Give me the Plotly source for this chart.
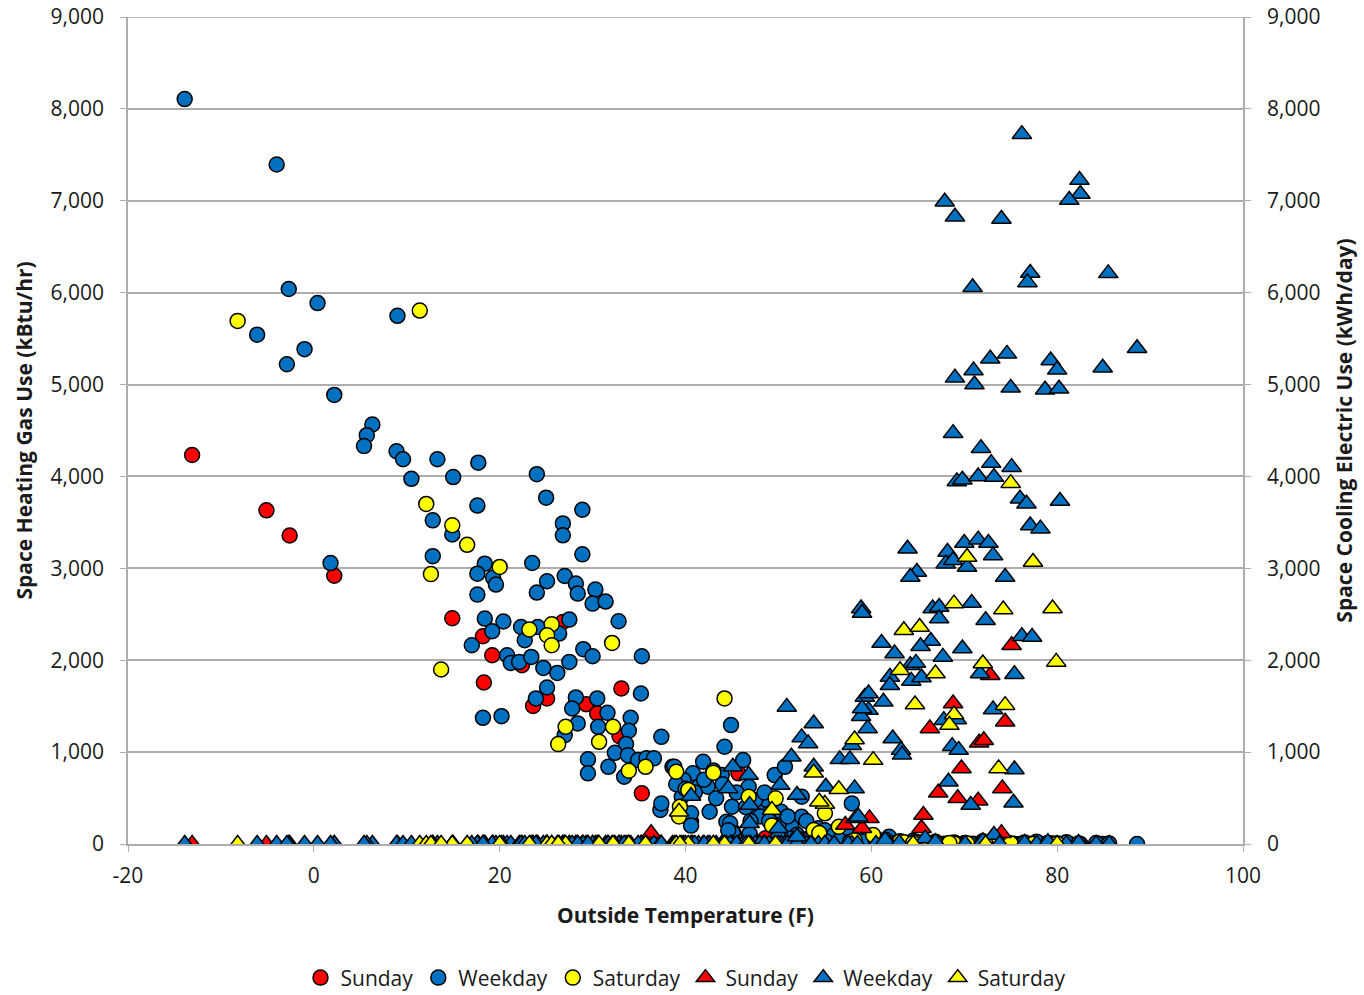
import plotly.graph_objects as go

# ---------------- Sunday (one entry per day) ----------------
sun_temp = [-13.1, -5.1, -2.6, 2.2, 14.9, 18.2, 19.2, 22.4, 18.3, 25.1, 23.6, 33.1,
            29.3, 30.5, 26.8, 32.9, 35.3, 36.3, 40.6, 45.1, 45.7, 48.6,
            55.0, 57.2, 59.0, 59.8, 61.1, 65.4, 65.6, 66.3, 66.7, 67.2, 68.8, 69.3,
            69.7, 71.5, 71.6, 72.1, 72.8, 74.0, 74.1, 74.4, 75.1]
sun_heat = [4233, 3631, 3357, 2919, 2457, 2261, 2054, 1946, 1758, 1584, 1503, 1692,
            1522, 1421, 2416, 1174, 551, 0, 242, 134, 769, 62,
            10, 0, 10, 0, 5, 0, 0, 0, 0, 0, 0, 0,
            0, 0, 0, 0, 0, 0, 0, 0, 0]
sun_cool = [0, 0, 0, 0, 0, 0, 0, 0, 0, 0, 0, 0,
            0, 0, 0, 0, 0, 116, 0, 0, 0, 0,
            0, 207, 171, 279, 0, 171, 315, 1258, 0, 558, 1529, 497,
            823, 471, 1101, 1130, 1837, 116, 605, 1330, 2163]

# ---------------- Weekday heating days ----------------
wkh_temp = [-13.9, -4.0, -2.7, 0.4, -6.1, -1.0, -2.9, 9.0, 2.2, 6.3, 5.7, 5.4, 8.9, 9.6,
            13.3, 10.5, 15.0, 17.7, 1.8, 12.8, 14.9, 12.8, 17.6, 24.0, 25.0, 28.9,
            26.8, 26.8, 28.9, 18.4, 17.6, 19.3, 19.6, 17.6, 23.5, 25.1, 24.0, 27.0,
            28.2, 28.4, 30.3, 30.0, 31.4, 32.8, 18.4, 20.4, 19.2, 17.0, 20.8, 21.2,
            22.1, 23.4, 22.3, 22.7, 24.1, 26.4, 27.5, 24.7, 26.2, 27.5, 29.0, 30.0,
            35.3, 18.2, 20.2, 25.1, 23.9, 35.2, 28.2, 30.5, 27.8, 31.6, 34.1, 28.4,
            30.6, 33.9, 27.0, 33.6, 37.4, 32.4, 33.8, 29.5, 31.7, 34.9, 35.8, 36.6,
            33.4, 29.5, 37.3, 37.4, 38.6, 44.9, 44.2, 38.8, 40.8, 41.9, 43.9, 46.2,
            39.8, 41.4, 42.4, 39.6, 40.6, 42.6, 43.3, 45.0, 44.4, 44.8, 46.8, 49.6,
            50.7, 48.4, 47.8, 50.3, 52.5, 52.5, 51.4, 54.3, 57.9, 57.5, 61.9,
            39.0, 40.0, 41.0, 42.0, 43.0, 44.0, 45.5, 46.5, 47.5, 48.0, 49.0, 50.0,
            51.0, 53.0, 55.0, 56.0, 58.5, 48.5, 47.0, 52.0, 53.5]
wkh_heat = [8107, 7395, 6040, 5887, 5543, 5385, 5221, 5748, 4887, 4565, 4449, 4330, 4274, 4187,
            4187, 3974, 3993, 4150, 3057, 3522, 3368, 3132, 3683, 4025, 3769, 3638,
            3489, 3359, 3152, 3051, 2942, 2899, 2823, 2714, 3058, 2859, 2736, 2917,
            2834, 2725, 2769, 2616, 2638, 2424, 2453, 2421, 2315, 2163, 2054, 1971,
            1982, 2036, 2362, 2217, 2362, 2290, 2442, 1916, 1862, 1982, 2120, 2043,
            2043, 1373, 1391, 1703, 1584, 1638, 1595, 1584, 1475, 1427, 1373, 1312,
            1275, 1232, 1185, 1087, 1166, 992, 967, 921, 840, 913, 932, 932,
            732, 769, 370, 442, 840, 1294, 1058, 840, 769, 895, 750, 913,
            696, 623, 623, 514, 334, 351, 497, 405, 242, 225, 623, 750,
            840, 478, 351, 351, 514, 297, 188, 171, 442, 116, 79,
            650, 600, 560, 700, 800, 650, 560, 400, 480, 300, 250, 200,
            300, 250, 150, 100, 60, 560, 250, 100, 80]

# ---------------- Weekday cooling days ----------------
wkc_temp = [76.2, 82.4, 82.5, 81.3, 67.9, 69.0, 74.0, 77.1, 76.8, 85.5, 70.9, 88.6,
            74.6, 72.8, 79.3, 80.0, 71.0, 84.9, 69.0, 71.1, 75.0, 78.7, 80.2, 68.8,
            71.8, 72.9, 75.1, 69.2, 69.8, 71.5, 73.2, 76.0, 76.7, 80.3, 77.1, 78.2,
            63.9, 68.2, 70.0, 71.5, 72.6, 68.0, 68.8, 70.3, 73.1, 74.4, 64.9, 64.2,
            58.9, 59.0, 66.6, 67.3, 70.8, 67.3, 72.3, 61.1, 66.4, 65.3, 76.2, 77.3,
            69.8, 62.5, 67.7, 64.2, 64.8, 71.7, 75.4, 62.0, 64.3, 65.4, 62.0, 59.3,
            61.3, 59.7, 58.9, 59.6, 67.8, 69.2, 73.1, 62.3, 63.2, 63.3, 68.7, 69.4,
            75.4, 68.3, 70.7, 75.3, 58.3, 73.2, 50.9, 53.8, 52.5, 53.2, 51.4, 53.8,
            55.1, 58.2, 52.0, 50.2, 46.8, 45.1, 44.6, 40.6, 46.9, 50.0, 46.9, 52.0,
            58.6, 59.7, 59.0, 57.9, 56.6, 57.7,
            60.5, 61.5, 63.0, 64.5, 65.8, 66.9, 70.1, 72.0, 73.8, 76.5, 77.8, 79.0,
            81.0, 82.3, 84.2, 85.6]
wkc_heat = [0, 0, 0, 0, 0, 0, 0, 0, 0, 0, 0, 0,
            0, 0, 0, 0, 0, 0, 0, 0, 0, 0, 0, 0,
            0, 0, 0, 0, 0, 0, 0, 0, 0, 0, 0, 0,
            0, 0, 0, 0, 0, 0, 0, 0, 0, 0, 0, 0,
            20, 15, 0, 0, 0, 0, 0, 10, 0, 0, 0, 0,
            0, 5, 0, 0, 0, 0, 0, 5, 0, 0, 0, 10,
            5, 10, 20, 10, 0, 0, 0, 5, 0, 0, 0, 0,
            0, 0, 0, 0, 30, 0, 40, 30, 50, 40, 60, 20,
            30, 20, 60, 80, 100, 120, 150, 200, 90, 70, 110, 40,
            25, 15, 30, 20, 40, 25,
            30, 45, 20, 35, 15, 25, 10, 30, 20, 15, 25, 10,
            20, 5, 10, 5]
wkc_cool = [7725, 7225, 7073, 7008, 6990, 6826, 6801, 6214, 6112, 6210, 6058, 5395,
            5334, 5280, 5261, 5160, 5152, 5182, 5073, 5000, 4964, 4943, 4954, 4471,
            4308, 4145, 4101, 3946, 3964, 4000, 3993, 3758, 3703, 3732, 3467, 3432,
            3214, 3178, 3275, 3312, 3275, 3051, 3087, 3014, 3141, 2906, 2960, 2906,
            2562, 2514, 2562, 2580, 2623, 2453, 2435, 2188, 2210, 2152, 2261, 2253,
            2127, 2073, 2036, 1946, 1971, 1855, 1848, 1818, 1775, 1812, 1728, 1601,
            1547, 1457, 1391, 1258, 1348, 1355, 1464, 1149, 1022, 970, 1065, 1022,
            812, 677, 424, 449, 279, 98, 1492, 1312, 1160, 1095, 949, 840,
            623, 605, 533, 641, 750, 840, 605, 522, 424, 171, 225, 79,
            297, 1638, 1475, 1076, 921, 921,
            0, 40, 10, 0, 60, 20, 0, 30, 0, 10, 0, 20,
            0, 10, 0, 0]

# ---------------- Saturday (one entry per day) ----------------
sat_temp = [-8.2, 11.4, 12.1, 14.9, 16.5, 12.6, 20.0, 23.2, 25.6, 25.1, 25.6, 32.1,
            13.7, 27.1, 32.2, 26.3, 30.7, 33.9, 35.7, 39.0, 44.2, 43.0, 40.3, 39.4,
            46.8, 49.7, 53.8, 55.0, 56.5, 60.2,
            39.3, 49.3, 54.4, 58.2, 63.1, 63.5, 65.2, 64.7, 66.9, 68.9, 68.9, 68.4,
            70.3, 72.0, 73.7, 74.2, 74.4, 75.0, 77.4, 79.5, 79.9, 64.5, 72.3, 80.0]
sat_heat = [5693, 5805, 3701, 3469, 3256, 2937, 3015, 2334, 2391, 2272, 2163, 2188,
            1899, 1275, 1275, 1087, 1112, 797, 840, 786, 1584, 775, 587, 405,
            514, 497, 152, 334, 188, 98,
            300, 200, 120, 40, 30, 20, 15, 20, 10, 15, 5, 10,
            5, 10, 5, 0, 10, 5, 0, 5, 0, 10, 0, 5]
sat_cool = [0, 0, 0, 0, 0, 0, 0, 0, 0, 0, 0, 0,
            0, 0, 0, 0, 0, 0, 0, 0, 0, 0, 0, 0,
            0, 0, 775, 435, 595, 913,
            351, 370, 460, 1138, 1891, 2326, 2362, 1519, 1855, 2616, 1410, 1294,
            3123, 1964, 823, 2551, 1511, 3927, 3069, 2562, 1982, 0, 0, 0]

x_ticks = [-20, 0, 20, 40, 60, 80, 100]
x_tick_text = ["-20", "0", "20", "40", "60", "80", "100"]
y_ticks = [0, 1000, 2000, 3000, 4000, 5000, 6000, 7000, 8000, 9000]
y_tick_text = ["0", "1,000", "2,000", "3,000", "4,000", "5,000", "6,000", "7,000", "8,000", "9,000"]

wk_temp_h = wkh_temp + wkc_temp
wk_heat = wkh_heat + wkc_heat
wk_cool = [0] * len(wkh_temp) + wkc_cool

RED, BLUE, YEL = "#FF0000", "#0070C0", "#FFFF00"
CIRC = 15
TRI = 17
LINE = dict(color="black", width=1.5)

fig = go.Figure()
fig.add_trace(go.Scatter(x=sun_temp, y=sun_heat, mode="markers", name="Sunday",
                         marker=dict(symbol="circle", size=CIRC, color=RED, line=LINE)))
fig.add_trace(go.Scatter(x=wk_temp_h, y=wk_heat, mode="markers", name="Weekday",
                         marker=dict(symbol="circle", size=CIRC, color=BLUE, line=LINE)))
fig.add_trace(go.Scatter(x=sat_temp, y=sat_heat, mode="markers", name="Saturday",
                         marker=dict(symbol="circle", size=CIRC, color=YEL, line=LINE)))
fig.add_trace(go.Scatter(x=sun_temp, y=sun_cool, mode="markers", name="Sunday", yaxis="y2",
                         marker=dict(symbol="triangle-up", size=TRI, color=RED, line=LINE)))
fig.add_trace(go.Scatter(x=wk_temp_h, y=wk_cool, mode="markers", name="Weekday", yaxis="y2",
                         marker=dict(symbol="triangle-up", size=TRI, color=BLUE, line=LINE)))
fig.add_trace(go.Scatter(x=sat_temp, y=sat_cool, mode="markers", name="Saturday", yaxis="y2",
                         marker=dict(symbol="triangle-up", size=TRI, color=YEL, line=LINE)))

FONT = "Open Sans"
GRID = "#ADADAD"
tickfont = dict(family=FONT, size=21, color="#1a1a1a")
titlefont = dict(family=FONT, size=21, color="#1a1a1a", weight="bold")

fig.update_layout(
    width=1364, height=995,
    margin=dict(l=128, r=121, t=17, b=151, autoexpand=False),
    paper_bgcolor="white", plot_bgcolor="white",
    font=dict(family=FONT, size=21, color="#1a1a1a"),
    showlegend=True,
    legend=dict(orientation="h", x=0.5, xanchor="center", y=-0.162, yanchor="middle",
                font=dict(family=FONT, size=21, color="#1a1a1a"),
                itemsizing="trace", tracegroupgap=0, itemwidth=30),
    xaxis=dict(range=[-20, 100], tickvals=x_ticks, ticktext=x_tick_text,
               showgrid=False, zeroline=False, automargin=False,
               showline=True, linecolor=GRID, linewidth=1.5, ticks="outside",
               tickcolor=GRID, ticklen=6, tickfont=tickfont, ticklabelstandoff=6,
               title=dict(text="Outside Temperature (F)", font=titlefont, standoff=20)),
    yaxis=dict(range=[0, 9000], tickvals=y_ticks, ticktext=y_tick_text, showgrid=True,
               gridcolor=GRID, gridwidth=1.5, zeroline=False, showline=True,
               automargin=False, ticklabelstandoff=12, ticklabeloverflow="allow",
               linecolor=GRID, linewidth=1.5, ticks="outside", tickcolor=GRID,
               ticklen=6, tickfont=tickfont,
               title=dict(text="Space Heating Gas Use (kBtu/hr)", font=titlefont, standoff=12)),
    yaxis2=dict(range=[0, 9000], tickvals=y_ticks, ticktext=y_tick_text, overlaying="y", side="right",
                showgrid=False, zeroline=False, showline=True, linecolor=GRID,
                automargin=False, ticklabelstandoff=12, ticklabeloverflow="allow",
                linewidth=1.5, ticks="outside", tickcolor=GRID, ticklen=6,
                tickfont=tickfont,
                title=dict(text="Space Cooling Electric Use (kWh/day)", font=titlefont, standoff=18)),
    shapes=[dict(type="line", xref="paper", yref="y", x0=0, x1=1, y0=9000, y1=9000,
                 line=dict(color=GRID, width=1.5), layer="below")],
)

fig.write_html("out.html", config={"displayModeBar": False},
               post_script="document.body.style.margin='0';")
